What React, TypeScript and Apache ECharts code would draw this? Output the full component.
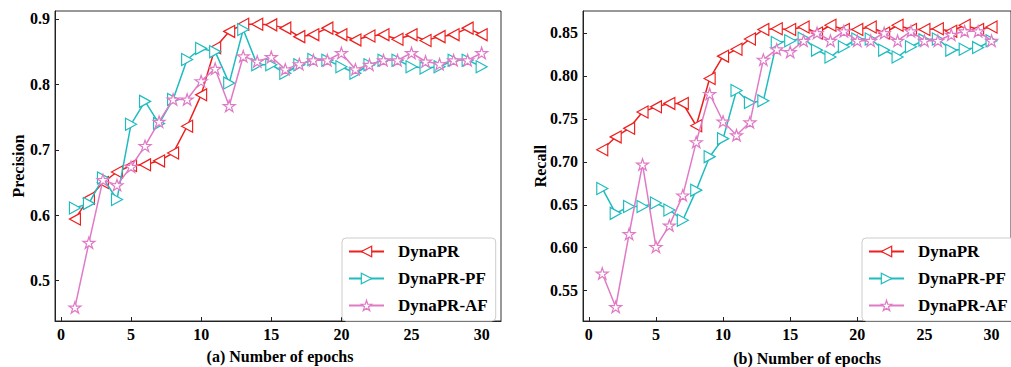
import React, { useEffect, useRef } from "react";
import * as echarts from "echarts";

const epochs = [1, 2, 3, 4, 5, 6, 7, 8, 9, 10, 11, 12, 13, 14, 15, 16, 17, 18, 19, 20, 21, 22, 23, 24, 25, 26, 27, 28, 29, 30];
const seriesNames = ["DynaPR", "DynaPR-PF", "DynaPR-AF"];

const precDynaPR = [0.594, 0.626, 0.650, 0.666, 0.676, 0.677, 0.683, 0.695, 0.736, 0.784, 0.856, 0.881, 0.892, 0.892, 0.891, 0.886, 0.873, 0.876, 0.886, 0.876, 0.868, 0.874, 0.876, 0.869, 0.876, 0.867, 0.873, 0.876, 0.886, 0.876];
const precPF = [0.611, 0.618, 0.657, 0.624, 0.739, 0.774, 0.740, 0.777, 0.838, 0.855, 0.850, 0.802, 0.884, 0.830, 0.830, 0.817, 0.830, 0.838, 0.837, 0.827, 0.817, 0.830, 0.837, 0.837, 0.827, 0.825, 0.827, 0.837, 0.837, 0.827];
const precAF = [0.459, 0.558, 0.654, 0.646, 0.674, 0.706, 0.743, 0.777, 0.777, 0.805, 0.824, 0.767, 0.843, 0.835, 0.842, 0.823, 0.831, 0.837, 0.837, 0.848, 0.823, 0.830, 0.837, 0.837, 0.848, 0.835, 0.831, 0.837, 0.837, 0.848];

const recDynaPR = [0.714, 0.729, 0.739, 0.758, 0.764, 0.768, 0.768, 0.742, 0.797, 0.823, 0.831, 0.843, 0.854, 0.855, 0.854, 0.857, 0.850, 0.859, 0.854, 0.854, 0.857, 0.850, 0.859, 0.854, 0.854, 0.855, 0.852, 0.859, 0.854, 0.857];
const recPF = [0.669, 0.640, 0.648, 0.648, 0.652, 0.644, 0.632, 0.667, 0.706, 0.727, 0.783, 0.769, 0.771, 0.839, 0.841, 0.844, 0.830, 0.822, 0.834, 0.843, 0.843, 0.830, 0.822, 0.834, 0.842, 0.843, 0.830, 0.831, 0.833, 0.841];
const recAF = [0.570, 0.531, 0.616, 0.697, 0.601, 0.626, 0.661, 0.723, 0.779, 0.747, 0.731, 0.746, 0.819, 0.831, 0.828, 0.841, 0.850, 0.841, 0.852, 0.841, 0.841, 0.850, 0.841, 0.852, 0.841, 0.841, 0.848, 0.852, 0.852, 0.841];

const xTicks = [0, 5, 10, 15, 20, 25, 30];
const precTicks = [0.5, 0.6, 0.7, 0.8, 0.9];
const recTicks = [0.55, 0.6, 0.65, 0.7, 0.75, 0.8, 0.85];

const FONT = "Liberation Serif";
const COLORS = ["#ee1f1f", "#1fbcbf", "#e07ac6"];
const SYMBOLS = [
  "path://M0,5L10,0L10,10Z",
  "path://M10,5L0,0L0,10Z",
  "path://M50,0L61.23,34.55L97.55,34.55L68.16,55.9L79.39,90.45L50,69.1L20.61,90.45L31.84,55.9L2.45,34.55L38.77,34.55Z",
];
const SIZES: any[] = [[11, 12], [11, 12], [12, 12]];

export default function App() {
  const ref = useRef<HTMLDivElement>(null);
  useEffect(() => {
    if (!ref.current) return;
    const chart = echarts.init(ref.current, null, { renderer: "svg" });

    const pair = (vals: number[]) => epochs.map((e, i) => [e, vals[i]]);
    const mk = (name: string, idx: number, vals: number[], axis: number) => ({
      type: "line",
      name,
      xAxisIndex: axis,
      yAxisIndex: axis,
      data: pair(vals),
      symbol: SYMBOLS[idx],
      symbolSize: SIZES[idx],
      symbolKeepAspect: idx === 2,
      showSymbol: true,
      lineStyle: { color: COLORS[idx], width: 1.5 },
      itemStyle: { color: "#ffffff", borderColor: COLORS[idx], borderWidth: 1.2 },
      emphasis: { disabled: true },
      z: 2 + idx,
    });

    const axisCommon = {
      axisLine: { show: true, onZero: false, lineStyle: { color: "#222", width: 1 } },
      axisTick: { show: true, inside: true, length: 4, lineStyle: { color: "#222" } },
      splitLine: { show: false },
    };
    const labelStyle = { fontFamily: FONT, fontWeight: "bold", fontSize: 16, color: "#000" };

    const xAxisDef = (gi: number, min: number, max: number) => ({
      type: "value",
      gridIndex: gi,
      min,
      max,
      ...axisCommon,
      axisTick: { ...axisCommon.axisTick, customValues: xTicks },
      axisLabel: { ...labelStyle, margin: 5, customValues: xTicks, formatter: (v: number) => String(v) },
    });
    const yAxisDef = (gi: number, min: number, max: number, ticks: number[], dec: number) => ({
      type: "value",
      gridIndex: gi,
      min,
      max,
      ...axisCommon,
      axisTick: { ...axisCommon.axisTick, customValues: ticks },
      axisLabel: { ...labelStyle, margin: 5, customValues: ticks, formatter: (v: number) => v.toFixed(dec) },
    });

    const legendDef = (left: number) => ({
      left,
      top: 238,
      orient: "vertical",
      data: seriesNames.map((n, i) => ({
        name: n,
        itemStyle: { color: "#ffffff", borderColor: COLORS[i], borderWidth: 1.2 },
      })),
      itemWidth: 35,
      itemHeight: 13,
      itemGap: 10,
      padding: [5, 8, 7, 6],
      borderColor: "#cccccc",
      borderWidth: 1,
      borderRadius: 4,
      backgroundColor: "#ffffff",
      selectedMode: false,
      textStyle: { fontFamily: FONT, fontWeight: "bold", fontSize: 17, color: "#000", padding: [0, 0, 0, 9] },
    });

    const titleText = (x: number, y: number, text: string, rot: number) => ({
      type: "text",
      x,
      y,
      rotation: rot,
      style: {
        text,
        fontFamily: FONT,
        fontWeight: "bold",
        fontSize: 16,
        fill: "#000",
        textAlign: "center",
        textVerticalAlign: "middle",
      },
    });

    chart.setOption({
      animation: false,
      grid: [
        { left: 55, top: 11, width: 446, height: 310, show: true, borderColor: "#333", borderWidth: 1, containLabel: false },
        { left: 583, top: 11, width: 440, height: 310, show: true, borderColor: "#333", borderWidth: 1, containLabel: false },
      ],
      xAxis: [xAxisDef(0, -0.42, 31.38), xAxisDef(1, -0.435, 31.45)],
      yAxis: [
        yAxisDef(0, 0.4382, 0.9122, precTicks, 1),
        yAxisDef(1, 0.5147, 0.8756, recTicks, 2),
      ],
      legend: [legendDef(342), legendDef(862)],
      series: [
        mk(seriesNames[0], 0, precDynaPR, 0),
        mk(seriesNames[1], 1, precPF, 0),
        mk(seriesNames[2], 2, precAF, 0),
        mk(seriesNames[0], 0, recDynaPR, 1),
        mk(seriesNames[1], 1, recPF, 1),
        mk(seriesNames[2], 2, recAF, 1),
      ],
      graphic: [
        titleText(18, 166, "Precision", Math.PI / 2),
        titleText(540, 166, "Recall", Math.PI / 2),
        titleText(280, 356, "(a) Number of epochs", 0),
        titleText(807, 358, "(b) Number of epochs", 0),
      ],
    });
    return () => chart.dispose();
  }, []);
  return (
    <div
      ref={ref}
      style={{ position: "absolute", left: 0, top: 0, width: 1011, height: 367, background: "#fff", overflow: "hidden" }}
    />
  );
}
